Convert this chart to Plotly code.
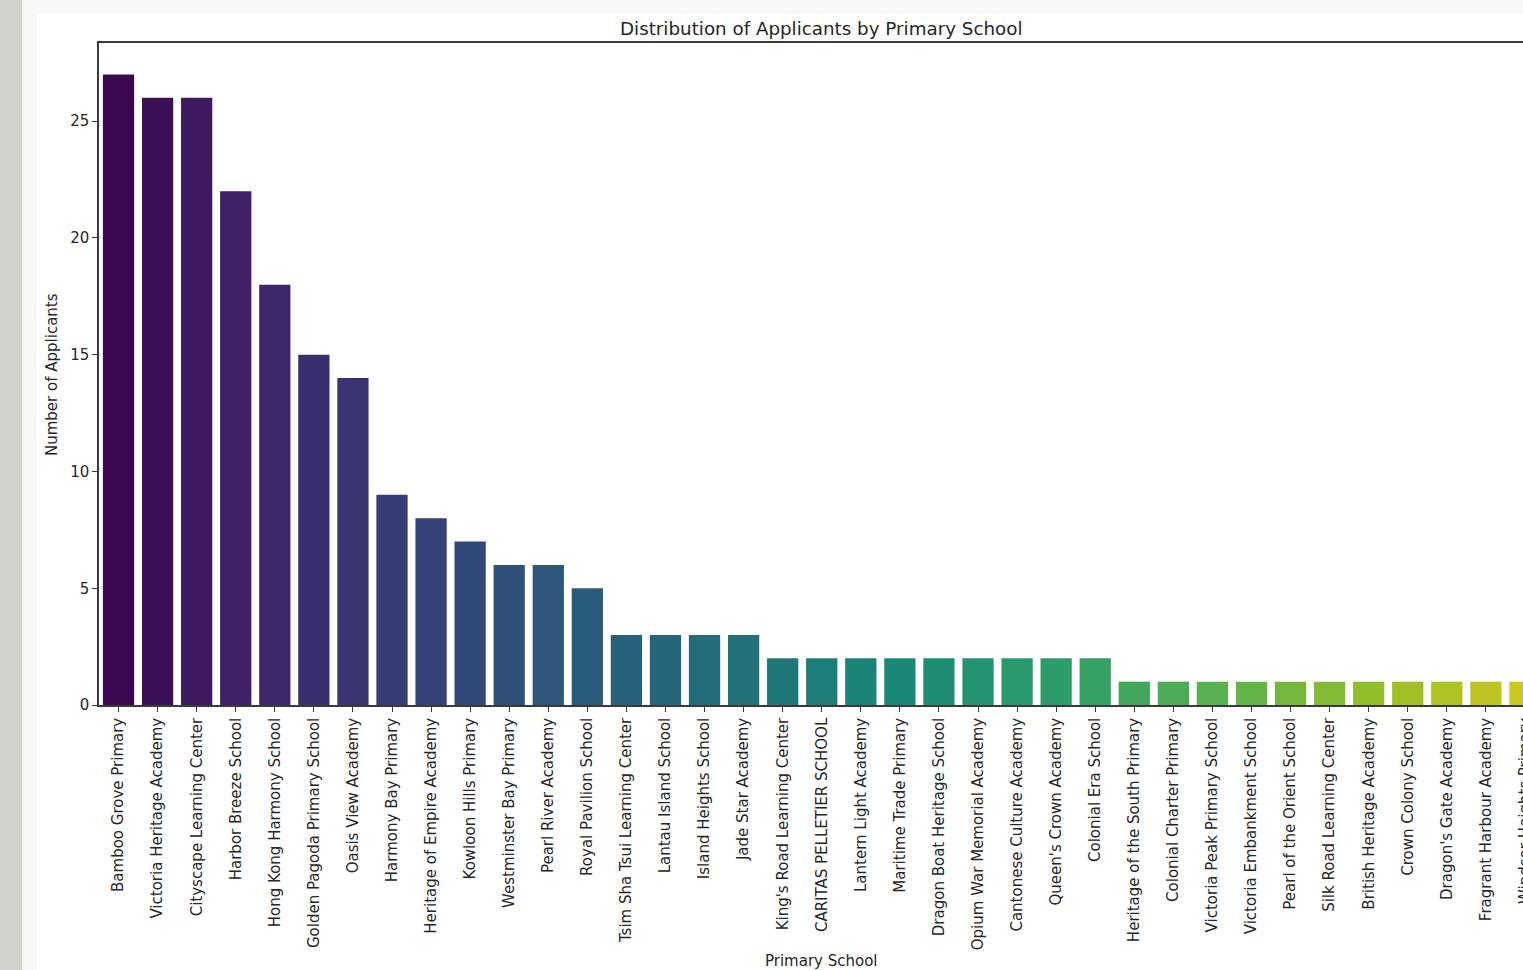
import plotly.graph_objects as go
from plotly.colors import sample_colorscale, unlabel_rgb

schools = [
    "Bamboo Grove Primary", "Victoria Heritage Academy", "Cityscape Learning Center",
    "Harbor Breeze School", "Hong Kong Harmony School", "Golden Pagoda Primary School",
    "Oasis View Academy", "Harmony Bay Primary", "Heritage of Empire Academy",
    "Kowloon Hills Primary", "Westminster Bay Primary", "Pearl River Academy",
    "Royal Pavilion School", "Tsim Sha Tsui Learning Center", "Lantau Island School",
    "Island Heights School", "Jade Star Academy", "King's Road Learning Center",
    "CARITAS PELLETIER SCHOOL", "Lantern Light Academy", "Maritime Trade Primary",
    "Dragon Boat Heritage School", "Opium War Memorial Academy", "Cantonese Culture Academy",
    "Queen's Crown Academy", "Colonial Era School", "Heritage of the South Primary",
    "Colonial Charter Primary", "Victoria Peak Primary School", "Victoria Embankment School",
    "Pearl of the Orient School", "Silk Road Learning Center", "British Heritage Academy",
    "Crown Colony School", "Dragon's Gate Academy", "Fragrant Harbour Academy",
    "Windsor Heights Primary",
]
applicants = [27, 26, 26, 22, 18, 15, 14, 9, 8, 7, 6, 6, 5, 3, 3, 3, 3,
              2, 2, 2, 2, 2, 2, 2, 2, 2,
              1, 1, 1, 1, 1, 1, 1, 1, 1, 1, 1]
y_ticks = [0, 5, 10, 15, 20, 25]

W, H = 1523, 970
ML, MR, MT, MB = 99, 0, 43, 265
PW, PH = W - ML - MR, H - MT - MB
X_MIN, X_MAX = -0.5, 35.95
Y_MAX = 28.35

def px_x(p):
    return (p - ML) / PW

def px_y(p):
    return (H - MB - p) / PH

n = len(schools)
raw = sample_colorscale("Viridis", [(i + 1) / (n + 1) for i in range(n)])
colors = []
for c in raw:
    r, g, b = unlabel_rgb(c)
    k = 0.87
    colors.append(f"rgb({int(r*k)},{int(g*k)},{int(b*k)})")

FONT = "DejaVu Sans"
TXT = "#262626"

fig = go.Figure(go.Bar(
    x=schools, y=applicants, marker=dict(color=colors, line=dict(width=0)),
    width=0.8,
))

shapes = [
    dict(type="rect", xref="paper", yref="paper", layer="below",
         x0=px_x(37), x1=px_x(W + 5), y0=px_y(H + 5), y1=px_y(14),
         fillcolor="white", line=dict(width=0)),
    dict(type="rect", xref="paper", yref="paper", layer="below",
         x0=px_x(-2), x1=px_x(22), y0=px_y(H + 5), y1=px_y(-5),
         fillcolor="#d2d3cd", line=dict(width=0)),
]

center_paper = ((X_MIN + (n - 0.5)) / 2 - X_MIN) / (X_MAX - X_MIN)
last_paper = ((n - 1) - X_MIN) / (X_MAX - X_MIN)

annotations = [
    dict(text="Distribution of Applicants by Primary School", xref="paper", yref="paper",
         x=center_paper, y=px_y(28), xanchor="center", yanchor="middle", showarrow=False,
         font=dict(family=FONT, size=18.3, color=TXT)),
    dict(text="Primary School", xref="paper", yref="paper",
         x=center_paper, y=px_y(961), xanchor="center", yanchor="middle", showarrow=False,
         font=dict(family=FONT, size=15, color=TXT)),
    dict(text="Number of Applicants", xref="paper", yref="paper",
         x=px_x(52), y=px_y(375), xanchor="center", yanchor="middle", showarrow=False,
         textangle=-90, font=dict(family=FONT, size=15, color=TXT)),
    dict(text=schools[-1], xref="paper", yref="paper",
         x=last_paper, y=px_y(716), xanchor="center", yanchor="top", showarrow=False,
         textangle=-90, font=dict(family=FONT, size=15, color=TXT)),
]

fig.update_layout(
    width=W, height=H,
    margin=dict(l=ML, r=MR, t=MT, b=MB, pad=0),
    paper_bgcolor="#f7f7f7", plot_bgcolor="white",
    showlegend=False, bargap=0.2,
    font=dict(family=FONT, size=15, color=TXT),
    shapes=shapes, annotations=annotations,
    xaxis=dict(type="category", range=[X_MIN, X_MAX], tickangle=-90,
               showline=True, linecolor="#3a3a3a", linewidth=1.5, mirror=True,
               ticks="outside", ticklen=5, tickwidth=1.2, tickcolor="#3a3a3a",
               showgrid=False, zeroline=False, automargin=False,
               tickfont=dict(family=FONT, size=15, color=TXT)),
    yaxis=dict(range=[0, Y_MAX], tickvals=y_ticks,
               showline=True, linecolor="#3a3a3a", linewidth=1.5, mirror=False,
               ticks="outside", ticklen=5, tickwidth=1.2, tickcolor="#3a3a3a",
               showgrid=False, zeroline=False, automargin=False,
               tickfont=dict(family=FONT, size=15, color=TXT)),
)

fig.write_html(
    "out.html",
    config={"displayModeBar": False},
    post_script="document.body.style.margin='0';document.body.style.overflow='hidden';",
)
